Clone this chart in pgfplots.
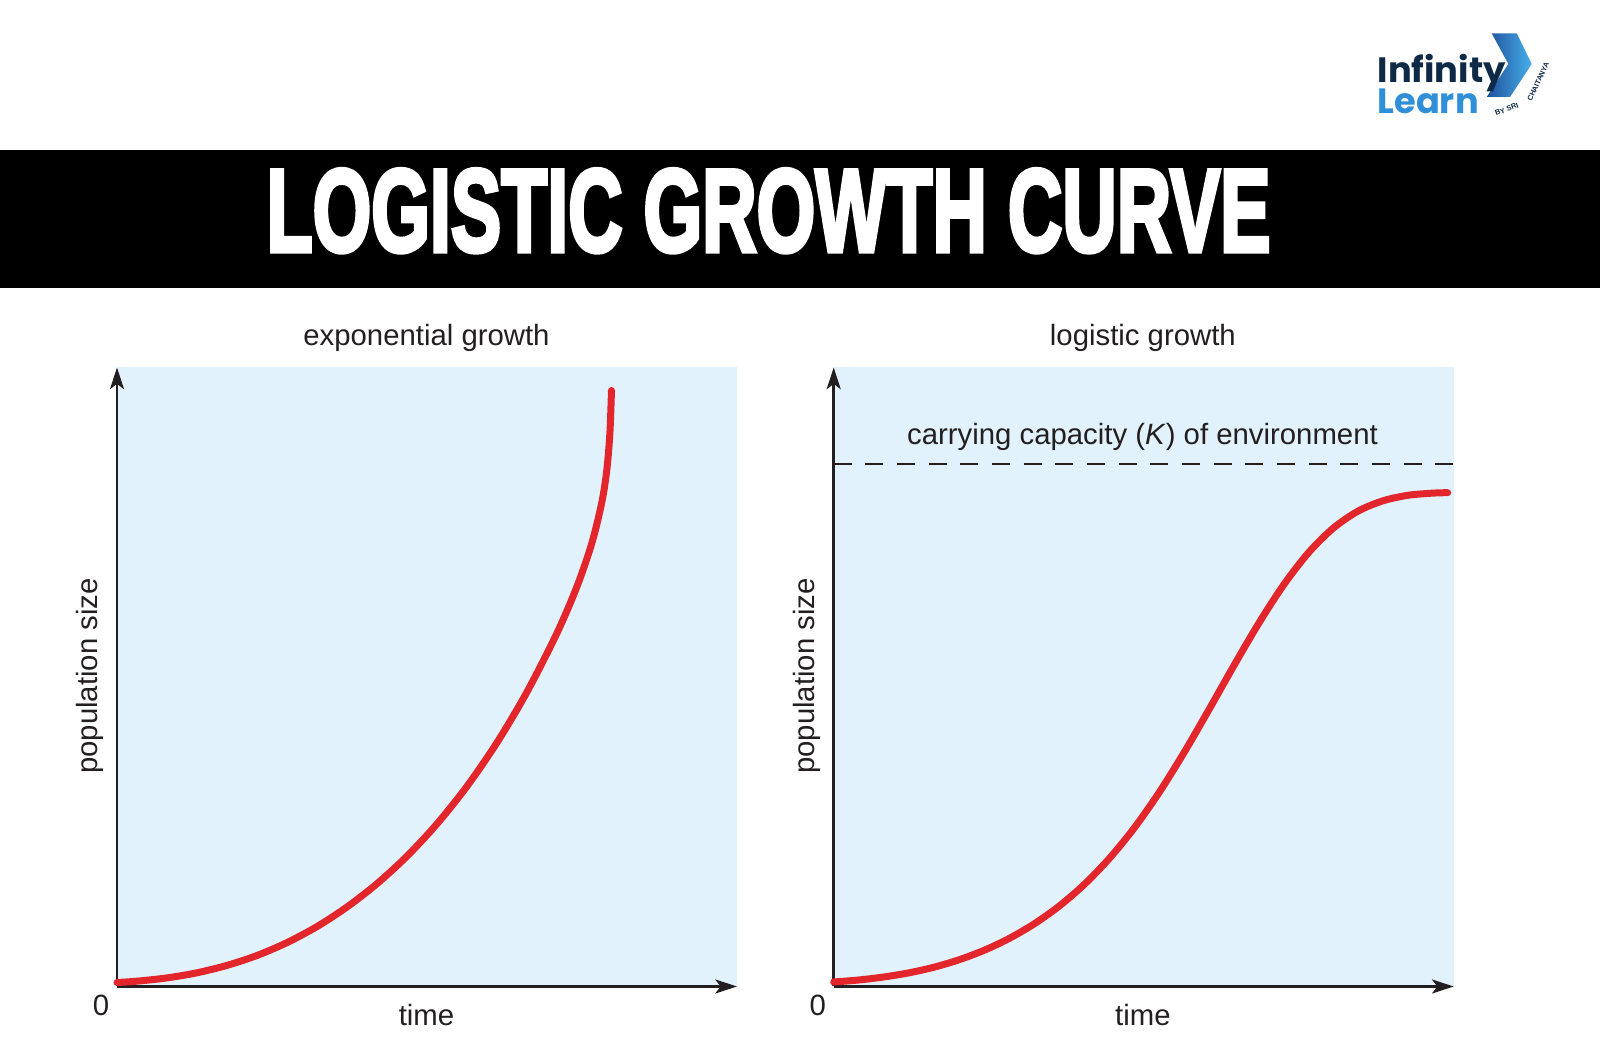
\documentclass[border=0pt]{standalone}
\usepackage{fontspec}
\setmainfont{Liberation Sans}
\newfontfamily\titlefont{Liberation Sans Bold}[FakeBold=4]
\newfontfamily\logofont{Poppins}
\usepackage{pgfplots}
\pgfplotsset{compat=1.18}
\usetikzlibrary{arrows.meta}
\definecolor{bgblue}{HTML}{E1F2FC}
\definecolor{curvered}{HTML}{E3262B}
\definecolor{txt}{HTML}{231F20}
\definecolor{navy}{HTML}{0E2A47}
\definecolor{lblue}{HTML}{2F8FD8}
\definecolor{chevdark}{HTML}{1F4F9A}
\definecolor{chevlight}{HTML}{45B0EA}
\newcommand\lbl{\fontsize{8.8}{10.5}\selectfont}
\pgfplotsset{panel/.style={
  scale only axis, width=186pt, height=185.7pt,
  xmin=0, xmax=620, ymin=0, ymax=619,
  axis lines=left,
  axis line style={draw=txt, line width=0.75pt, -{Stealth[length=6.5pt,width=4.2pt,inset=1.6pt]}},
  xtick=\empty, ytick=\empty,
  axis background/.style={fill=bgblue},
  clip=false,
  anchor=south west,
}}
\begin{document}
\begin{tikzpicture}
\path[use as bounding box, fill=white] (0,0) rectangle (480pt,313.5pt);
\begin{scope}[x=0.3pt,y=0.3pt]
  \fill[black] (0,757) rectangle (1600,895);
  \node[white, inner sep=0] at (768.5,834.2) {\resizebox{301.1pt}{24.6pt}{\titlefont LOGISTIC GROWTH CURVE}};
  % logo
  \shade[left color=chevdark, right color=chevlight] (1491.7,1011.7) -- (1516.7,1011.7) -- (1531.7,981) -- (1510,948) -- (1486.7,948) -- (1508.3,981) -- cycle;
  \node[anchor=base west, inner sep=0, navy] at (1377,962) {\resizebox{38.4pt}{!}{\logofont\bfseries Infinity}};
  \node[anchor=base west, inner sep=0, lblue] at (1377,931) {\resizebox{30.3pt}{!}{\logofont\bfseries Learn}};
  \node[inner sep=0, navy, rotate=20] at (1506.7,935.7) {\fontsize{2.2}{2.5}\selectfont\bfseries BY SRI};
  \node[inner sep=0, navy, rotate=65] at (1538.3,963.3) {\fontsize{2.2}{2.5}\selectfont\bfseries CHAITANYA};
\end{scope}
\begin{axis}[panel, at={(35.1pt,17.55pt)}]
  \addplot[curvered, line width=2.1pt, line cap=round, smooth] coordinates {
    (0,4) (20,5.3) (50,8.6) (80,13.7) (110,21.1) (140,31) (170,43.9) (200,59.9)
    (230,79.5) (260,102.8) (290,130.3) (320,162.6) (350,200.2) (380,243.9)
    (410,294.5) (440,353.4) (460,400) (475,443.8) (485,485) (490,518) (493,555) (494.5,596)
  };
  \node[anchor=base, txt, font=\lbl] at (axis cs:309.5,640.5) {exponential growth};
  \node[anchor=base, txt, font=\lbl] at (axis cs:-16,-29.5) {0};
  \node[anchor=base, txt, font=\lbl] at (axis cs:309.5,-39) {time};
  \node[anchor=base, txt, font=\lbl, rotate=90] at (axis cs:-19.5,310.5) {population size};
\end{axis}
\begin{axis}[panel, at={(250.11pt,17.55pt)}]
  \addplot[txt, line width=0.6pt, dash pattern=on 5.4pt off 4.1pt] coordinates {(0,522) (620,522)};
  \addplot[curvered, line width=2.1pt, line cap=round, smooth] coordinates {
    (0,4.5) (25,6.5) (50,9.5) (75,13.6) (100,19.2) (125,26.6) (150,36) (175,47.8)
    (200,62.3) (225,80) (250,101.5) (275,127.3) (300,157.8) (325,193.3) (350,233.3)
    (375,276.4) (400,320.5) (425,363.1) (450,401.7) (475,434) (500,458.7) (525,475.7)
    (550,485.9) (575,491.3) (600,493.4) (614,493.8)
  };
  \node[anchor=base, txt, font=\lbl] at (axis cs:309.2,640.5) {logistic growth};
  \node[anchor=base, txt, font=\lbl] at (axis cs:308.8,541.5) {carrying capacity (\textit{K}) of environment};
  \node[anchor=base, txt, font=\lbl] at (axis cs:-16,-29.5) {0};
  \node[anchor=base, txt, font=\lbl] at (axis cs:309.2,-39) {time};
  \node[anchor=base, txt, font=\lbl, rotate=90] at (axis cs:-19.5,310.5) {population size};
\end{axis}
\end{tikzpicture}
\end{document}
